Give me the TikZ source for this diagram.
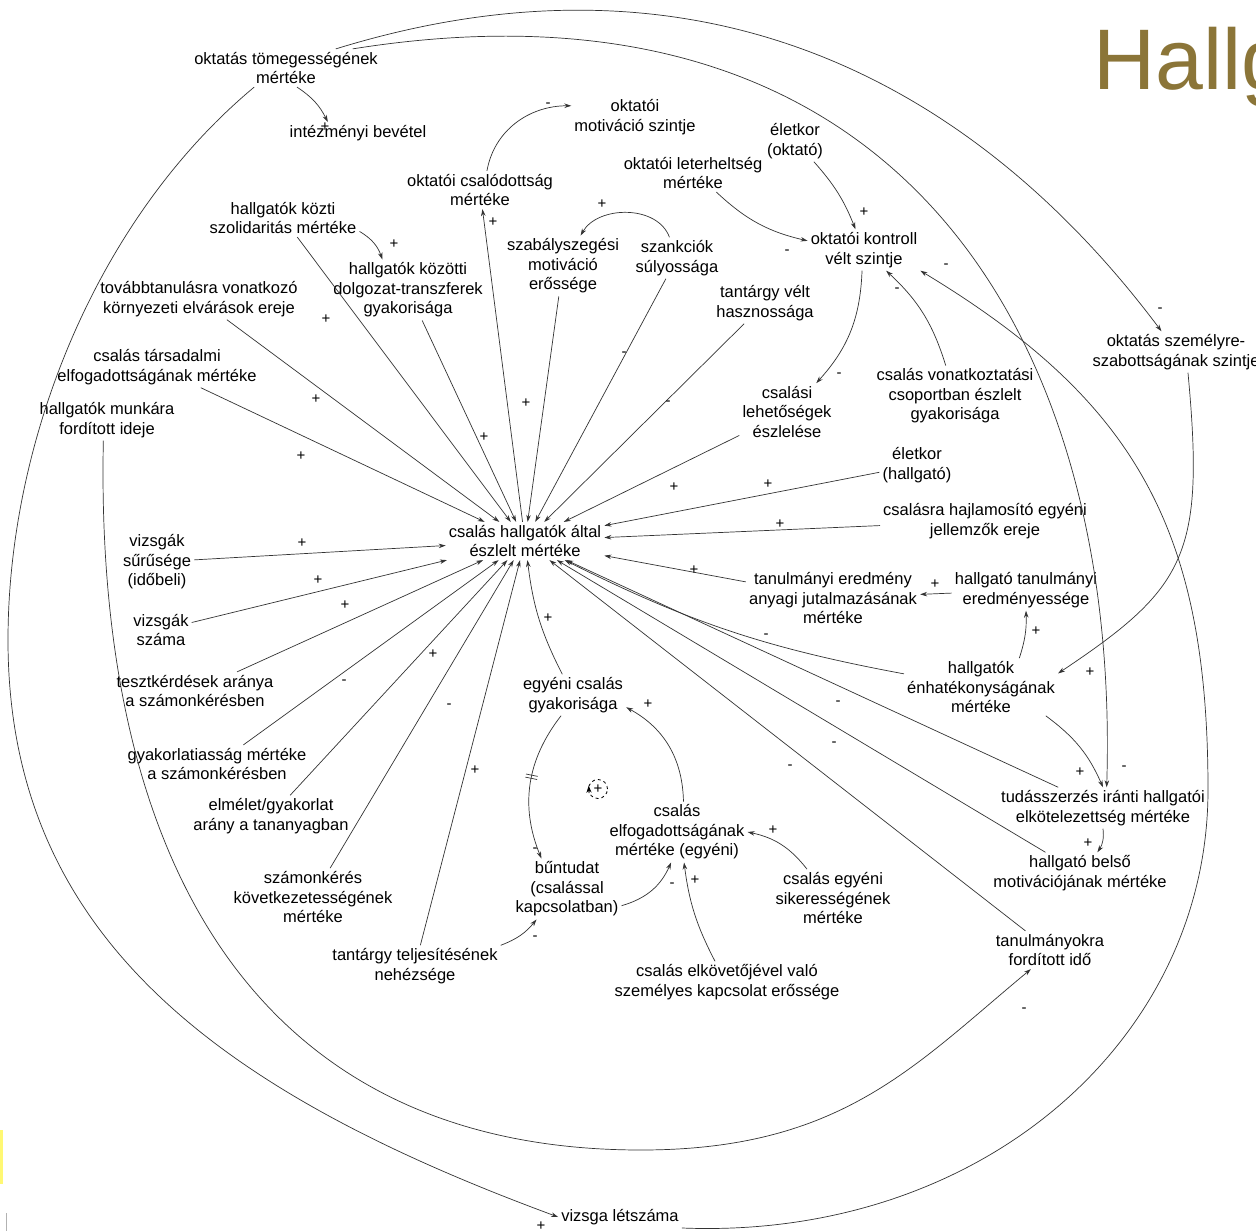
\documentclass[tikz,border=0pt]{standalone}
\usepackage{fontspec}
\setmainfont{Liberation Sans}
\usepackage{tikz}
\usetikzlibrary{positioning, arrows.meta, decorations.markings}
\definecolor{titlegold}{RGB}{139,117,56}
\tikzset{var/.style = {align=center, inner sep=3pt, font=\fontsize{16.5}{19.5}\selectfont}}
\tikzset{arr/.style = {-{Stealth[length=7pt,width=4.5pt]}, draw=black!80, line width=0.7pt}}
\tikzset{sgn/.style = {inner sep=0pt, font=\fontsize{15}{15}\selectfont}}
\tikzset{delay/.style = {postaction={decorate}, decoration={markings,
    mark=at position 0.45 with {\draw[-] (-1.6pt,-6pt) -- (-1.6pt,6pt) (1.6pt,-6pt) -- (1.6pt,6pt);}}}}
\tikzset{loopmark/.style = {circle, draw, dashed, line width=0.8pt, minimum size=19pt, inner sep=0pt, font=\fontsize{15}{15}\selectfont}}

\begin{document}
\begin{tikzpicture}[x=1pt, y=-1pt]
    \fill[white] (0,0) rectangle (1256,1231);
    \useasboundingbox (0,0) rectangle (1256,1231);

    % title and slide leftovers
    \node [anchor=base west, inner sep=0pt, text=titlegold, font=\fontsize{86}{86}\selectfont] (title) at (1093,89) {Hallg};
    \fill [yellow!55] (0,1130) rectangle (3,1184);
    \draw [gray!60] (6,1213) -- (6,1231);

    % variables
    \node [var] (tomeg)      at ( 286,  68) {oktatás tömegességének\\mértéke};
    \node [var] (bevetel)    at ( 358, 133) {intézményi bevétel};
    \node [var] (motiv)      at ( 635, 117) {oktatói\\motiváció szintje};
    \node [var] (eletkorokt) at ( 795, 141) {életkor\\(oktató)};
    \node [var] (leterh)     at ( 693, 173) {oktatói leterheltség\\mértéke};
    \node [var] (csalod)     at ( 480, 190) {oktatói csalódottság\\mértéke};
    \node [var] (kontroll)   at ( 864, 250) {oktatói kontroll\\vélt szintje};
    \node [var] (szolid)     at ( 283, 218) {hallgatók közti\\szolidaritás mértéke};
    \node [var] (szabaly)    at ( 563, 266) {szabályszegési\\motiváció\\erőssége};
    \node [var] (szankc)     at ( 677, 258) {szankciók\\súlyossága};
    \node [var] (transzf)    at ( 408, 290) {hallgatók közötti\\dolgozat-transzferek\\gyakorisága};
    \node [var] (tovabb)     at ( 199, 299) {továbbtanulásra vonatkozó\\környezeti elvárások ereje};
    \node [var] (hasznos)    at ( 765, 303) {tantárgy vélt\\hasznossága};
    \node [var] (szemely)    at (1176, 352) {oktatás személyre-\\szabottságának szintje};
    \node [var] (tarsad)     at ( 157, 367) {csalás társadalmi\\elfogadottságának mértéke};
    \node [var] (munka)      at ( 107, 420) {hallgatók munkára\\fordított ideje};
    \node [var] (lehet)      at ( 787, 412) {csalási\\lehetőségek\\észlelése};
    \node [var] (vonatk)     at ( 955, 396) {csalás vonatkoztatási\\csoportban észlelt\\gyakorisága};
    \node [var] (eletkorh)   at ( 917, 465) {életkor\\(hallgató)};
    \node [var] (eszlelt)    at ( 525, 541) {csalás hallgatók által\\észlelt mértéke};
    \node [var] (hajlam)     at ( 985, 521) {csalásra hajlamosító egyéni\\jellemzők ereje};
    \node [var] (suru)       at ( 157, 562) {vizsgák\\sűrűsége\\(időbeli)};
    \node [var] (jutalom)    at ( 833, 598) {tanulmányi eredmény\\anyagi jutalmazásának\\mértéke};
    \node [var] (eredm)      at (1026, 590) {hallgató tanulmányi\\eredményessége};
    \node [var] (szama)      at ( 161, 630) {vizsgák\\száma};
    \node [var] (teszt)      at ( 195, 691) {tesztkérdések aránya\\a számonkérésben};
    \node [var] (egyeni)     at ( 573, 695) {egyéni csalás\\gyakorisága};
    \node [var] (enhat)      at ( 981, 687) {hallgatók\\énhatékonyságának\\mértéke};
    \node [var] (gyak)       at ( 217, 764) {gyakorlatiasság mértéke\\a számonkérésben};
    \node [var] (elmelet)    at ( 271, 816) {elmélet/gyakorlat\\arány a tananyagban};
    \node [var] (tudas)      at (1103, 808) {tudásszerzés iránti hallgatói\\elkötelezettség mértéke};
    \node [var] (elfog)      at ( 677, 832) {csalás\\elfogadottságának\\mértéke (egyéni)};
    \node [var] (belso)      at (1080, 873) {hallgató belső\\motivációjának mértéke};
    \node [var] (szamonk)    at ( 313, 897) {számonkérés\\következetességének\\mértéke};
    \node [var] (buntudat)   at ( 567, 889) {bűntudat\\(csalással\\kapcsolatban)};
    \node [var] (sikeres)    at ( 833, 898) {csalás egyéni\\sikerességének\\mértéke};
    \node [var] (tanulm)     at (1050, 950) {tanulmányokra\\fordított idő};
    \node [var] (nehez)      at ( 415, 966) {tantárgy teljesítésének\\nehézsége};
    \node [var] (kapcsolat)  at ( 727, 982) {csalás elkövetőjével való\\személyes kapcsolat erőssége};
    \node [var] (letszam)    at ( 620,1217) {vizsga létszáma};

    \node [loopmark] (loop) at (598,789) {+};
    \draw [-{Stealth[length=7pt,width=5pt]}, line width=0.8pt] (loop.205) -- (loop.160);

    % waypoints of the long arcs
    \coordinate (bendL) at (8,640);
    \coordinate (bendR) at (1208,790);
    \coordinate (bendB) at (641,1150);

    % links into the perceived level
    \foreach \src in {tarsad, tovabb, szolid, transzf, szabaly, szankc, hasznos, lehet,
                      eletkorh, hajlam, jutalom, tudas, belso, tanulm, nehez, szamonk,
                      elmelet, gyak, teszt, szama, suru}
        \draw [arr] (\src) -- (eszlelt);
    \draw [arr] (enhat) to[bend left=8] (eszlelt);
    \draw [arr] (egyeni) to[bend left=10] (eszlelt);
    \draw [arr] (eszlelt) -- (csalod);

    % other links
    \draw [arr] (tomeg.300) to[bend left=15] (bevetel.160);
    \draw [arr] (csalod.70) to[out=80, in=180] (motiv.170);
    \draw [arr] (szolid) to[bend left=20] (transzf);
    \draw [arr] (szankc.110) to[out=110, in=60] (szabaly.60);
    \draw [arr] (eletkorokt) to[bend left=10] (kontroll);
    \draw [arr] (leterh) to[bend right=15] (kontroll);
    \draw [arr] (vonatk) to[bend right=15] (kontroll);
    \draw [arr] (kontroll) to[bend left=20] (lehet);
    \draw [arr] (szemely.-60) .. controls (1205,555) and (1186,588) .. (enhat.10);
    \draw [arr] (eredm) -- (jutalom);
    \draw [arr] (enhat.37) to[bend right=10] (eredm.south);
    \draw [arr] (enhat.-24) to[bend left=15] (tudas.north);
    \draw [arr] (tudas.south) to[bend left=20] (belso.50);
    \draw [arr, delay] (egyeni.240) to[bend right=30] (buntudat.130);
    \draw [arr] (buntudat.-17) to[bend right=25] (elfog.259);
    \draw [arr] (elfog.78) to[bend right=30] (egyeni.-13);
    \draw [arr] (sikeres.132) to[bend right=20] (elfog.east);
    \draw [arr] (kapcsolat.120) to[bend left=10] (elfog.283);
    \draw [arr] (nehez.north east) to[bend right=15] (buntudat.225);

    % long arcs
    \draw [arr] (tomeg.21) .. controls (708,-66) and (980,89) .. (szemely.125);
    \draw [arr] (tomeg.16) .. controls (910,-40) and (1120,350) .. (tudas.80);
    \draw [arr] (tomeg.211) .. controls (97,218) and (8,440) .. (bendL)
                .. controls (8,940) and (225,1094) .. (letszam.west);
    \draw [arr] (letszam.south east) .. controls (981,1240) and (1208,1040) .. (bendR)
                .. controls (1208,530) and (1136,401) .. (kontroll.south east);
    \draw [arr] (munka.260) .. controls (95,840) and (241,1150) .. (bendB)
                .. controls (841,1150) and (914,1066) .. (tanulm.225);

    % polarities
    \foreach [count=\i] \px/\py/\sg in {
        325/127/+, 548/105/-, 493/222/+, 394/244/+, 602/204/+, 864/212/+,
        787/252/-, 946/266/-, 897/290/-, 1160/310/-, 839/375/-, 326/319/+,
        316/399/+, 301/456/+, 484/437/+, 526/403/+, 624/354/-, 668/403/-,
        674/487/+, 768/484/+, 780/524/+, 694/570/+, 935/584/+, 1036/631/+,
        1090/672/+, 766/636/-, 838/703/-, 834/744/-, 790/767/-, 1080/772/+,
        1124/768/-, 1088/843/+, 302/543/+, 318/580/+, 345/605/+, 344/682/-,
        433/654/+, 449/706/-, 475/770/+, 548/618/+, 648/704/+, 535/850/-,
        535/938/-, 672/885/-, 695/880/+, 773/830/+, 541/1226/+, 1024/1010/-}
        \node [sgn] (sgn\i) at (\px,\py) {\sg};
\end{tikzpicture}
\end{document}
